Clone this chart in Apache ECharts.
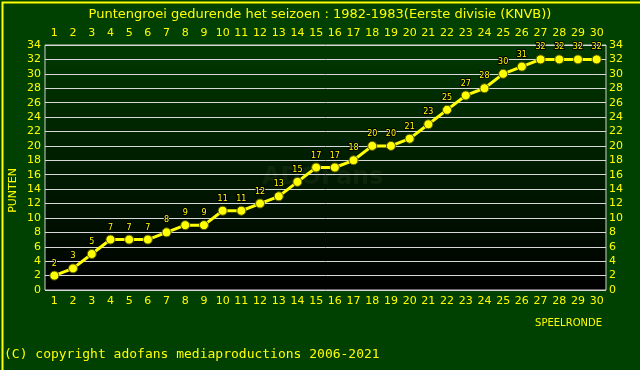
<!DOCTYPE html>
<html><head><meta charset="utf-8">
<script src="https://cdn.jsdelivr.net/npm/echarts@6/dist/echarts.min.js"></script>
<style>html,body{margin:0;padding:0;background:#004000;}#c{width:640px;height:370px;}</style>
</head><body><div id="c"></div>
<script>
const rounds = ['1','2','3','4','5','6','7','8','9','10','11','12','13','14','15','16','17','18','19','20','21','22','23','24','25','26','27','28','29','30'];
const points = [2,3,5,7,7,7,8,9,9,11,11,12,13,15,17,17,18,20,20,21,23,25,27,28,30,31,32,32,32,32];
const titleText = 'Puntengroei gedurende het seizoen : 1982-1983(Eerste divisie (KNVB))';
const yLabel = 'PUNTEN';
const xLabel = 'SPEELRONDE';
const copyright = '(C) copyright adofans mediaproductions 2006-2021';

const chart = echarts.init(document.getElementById('c'), null, {renderer:'canvas'});
const Y = '#ffff00';
const font = 'DejaVu Sans';
const yAxisBase = {
  type:'value', min:0, max:34, interval:2,
  axisLine:{show:false}, axisTick:{show:false},
  axisLabel:{color:Y, fontFamily:font, fontSize:11, margin:4}
};
chart.setOption({
  backgroundColor:'#004000',
  animation:false,
  title:{text:titleText, left:'center', top:3, textStyle:{color:Y, fontFamily:font, fontSize:13, fontWeight:'normal'}},
  grid:{left:45, right:34, top:45, bottom:80, show:true, borderColor:'#d0d0d0', borderWidth:1,
    backgroundColor:{type:'linear',x:0,y:0,x2:0,y2:1,colorStops:[{offset:0,color:'#003800'},{offset:1,color:'#000000'}]}},
  graphic:[
    {type:'rect', left:0, top:0, shape:{width:639, height:369}, style:{fill:'none', stroke:Y, lineWidth:2}, silent:true},
    {type:'text', left:8, top:168, rotation:Math.PI/2, style:{text:yLabel, fill:Y, font:'11px "DejaVu Sans"', textAlign:'center', textVerticalAlign:'middle'}, x:14, y:168},
    {type:'text', right:38, top:318, style:{text:xLabel, fill:Y, font:'10px "DejaVu Sans"'}},
    {type:'text', left:4, top:348, style:{text:copyright, fill:Y, font:'13px "DejaVu Sans Mono"'}},
    {type:'text', left:262, top:166, z:0, style:{text:'ADOFans', fill:'rgba(70,90,50,0.18)', font:'bold 24px "DejaVu Sans"'}}
  ],
  xAxis:[
    {type:'category', data:rounds, position:'bottom', boundaryGap:true,
      axisLine:{show:false}, axisTick:{show:false}, splitLine:{show:false},
      axisLabel:{color:Y, fontFamily:font, fontSize:11, margin:6, interval:0}},
    {type:'category', data:rounds, position:'top', boundaryGap:true,
      axisLine:{show:false}, axisTick:{show:false}, splitLine:{show:false},
      axisLabel:{color:Y, fontFamily:font, fontSize:11, margin:6, interval:0}}
  ],
  yAxis:[
    Object.assign({}, yAxisBase, {position:'left', splitLine:{show:true, lineStyle:{color:'#d8d8d8', width:1}}}),
    Object.assign({}, yAxisBase, {position:'right', splitLine:{show:false}, axisLabel:{color:Y, fontFamily:font, fontSize:11, margin:3, align:'left'}})
  ],
  series:[{
    type:'line', data:points, xAxisIndex:0, yAxisIndex:0,
    symbol:'circle', symbolSize:9,
    lineStyle:{color:Y, width:3},
    itemStyle:{color:Y, borderColor:'#555500', borderWidth:1},
    label:{show:true, position:'top', distance:3, color:Y, fontFamily:font, fontSize:8, textBorderColor:'#000', textBorderWidth:2}
  }]
});
</script></body></html>
